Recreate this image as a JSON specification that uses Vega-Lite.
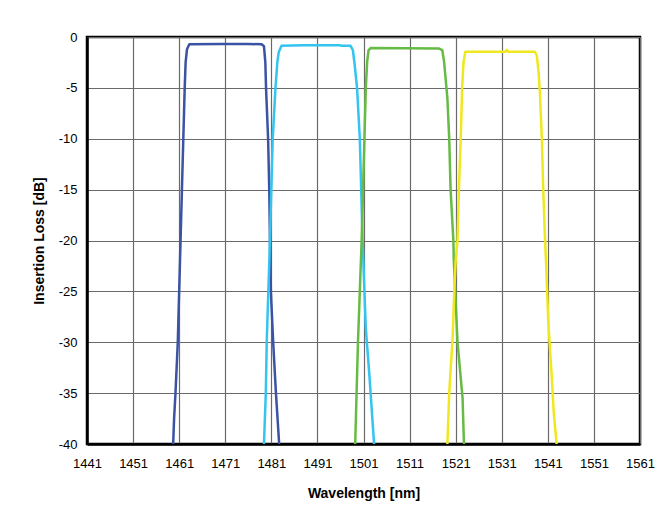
{
  "$schema": "https://vega.github.io/schema/vega-lite/v6.json",
  "width": 553,
  "height": 407,
  "autosize": {"type": "none"},
  "padding": {"left": 87, "top": 37, "right": 15, "bottom": 68},
  "background": "white",
  "config": {
    "font": "Liberation Sans",
    "view": {"stroke": "black", "strokeWidth": 2.5},
    "axis": {
      "labelFont": "Liberation Sans",
      "labelFontSize": 13,
      "labelColor": "black",
      "titleFont": "Liberation Sans",
      "titleFontSize": 14,
      "titleFontWeight": "bold",
      "titleColor": "black",
      "domainColor": "black",
      "domainWidth": 2.5,
      "gridColor": "#6a6a6a",
      "gridWidth": 1.2,
      "gridOpacity": 1,
      "ticks": false
    }
  },
  "data": {
    "values": [
      {"s": "A", "wl": 1459.7, "il": -40}, {"s": "A", "wl": 1459.9, "il": -37.5}, {"s": "A", "wl": 1460.2, "il": -35},
      {"s": "A", "wl": 1460.7, "il": -30}, {"s": "A", "wl": 1461.0, "il": -25}, {"s": "A", "wl": 1461.3, "il": -20},
      {"s": "A", "wl": 1461.6, "il": -15}, {"s": "A", "wl": 1461.9, "il": -10}, {"s": "A", "wl": 1462.2, "il": -5},
      {"s": "A", "wl": 1462.4, "il": -2.5}, {"s": "A", "wl": 1462.7, "il": -1.2}, {"s": "A", "wl": 1463.2, "il": -0.72},
      {"s": "A", "wl": 1470.0, "il": -0.7}, {"s": "A", "wl": 1476.0, "il": -0.68}, {"s": "A", "wl": 1478.9, "il": -0.72},
      {"s": "A", "wl": 1479.4, "il": -0.9}, {"s": "A", "wl": 1479.7, "il": -2.5}, {"s": "A", "wl": 1479.85, "il": -5},
      {"s": "A", "wl": 1480.3, "il": -10}, {"s": "A", "wl": 1480.55, "il": -15}, {"s": "A", "wl": 1480.7, "il": -20},
      {"s": "A", "wl": 1480.9, "il": -25}, {"s": "A", "wl": 1481.2, "il": -28}, {"s": "A", "wl": 1481.4, "il": -30},
      {"s": "A", "wl": 1482.0, "il": -35}, {"s": "A", "wl": 1482.7, "il": -40},

      {"s": "B", "wl": 1479.4, "il": -40}, {"s": "B", "wl": 1479.8, "il": -35}, {"s": "B", "wl": 1480.0, "il": -30},
      {"s": "B", "wl": 1480.35, "il": -25}, {"s": "B", "wl": 1480.7, "il": -20}, {"s": "B", "wl": 1481.0, "il": -15},
      {"s": "B", "wl": 1481.3, "il": -10}, {"s": "B", "wl": 1481.9, "il": -5}, {"s": "B", "wl": 1482.3, "il": -2.5},
      {"s": "B", "wl": 1482.6, "il": -1.5}, {"s": "B", "wl": 1483.2, "il": -0.85}, {"s": "B", "wl": 1488.0, "il": -0.8},
      {"s": "B", "wl": 1495.8, "il": -0.8}, {"s": "B", "wl": 1496.2, "il": -0.86}, {"s": "B", "wl": 1498.2, "il": -0.87},
      {"s": "B", "wl": 1498.7, "il": -1.3}, {"s": "B", "wl": 1499.1, "il": -2.8}, {"s": "B", "wl": 1499.6, "il": -5},
      {"s": "B", "wl": 1500.2, "il": -10}, {"s": "B", "wl": 1500.5, "il": -15}, {"s": "B", "wl": 1500.8, "il": -20},
      {"s": "B", "wl": 1500.97, "il": -22}, {"s": "B", "wl": 1501.2, "il": -25}, {"s": "B", "wl": 1501.5, "il": -28.6},
      {"s": "B", "wl": 1501.9, "il": -31}, {"s": "B", "wl": 1502.3, "il": -33.4}, {"s": "B", "wl": 1503.3, "il": -40},

      {"s": "C", "wl": 1499.2, "il": -40}, {"s": "C", "wl": 1499.5, "il": -35}, {"s": "C", "wl": 1499.8, "il": -30},
      {"s": "C", "wl": 1500.2, "il": -25}, {"s": "C", "wl": 1500.6, "il": -20}, {"s": "C", "wl": 1500.9, "il": -15},
      {"s": "C", "wl": 1501.2, "il": -10}, {"s": "C", "wl": 1501.5, "il": -5}, {"s": "C", "wl": 1501.8, "il": -2.4},
      {"s": "C", "wl": 1502.1, "il": -1.3}, {"s": "C", "wl": 1502.6, "il": -1.08}, {"s": "C", "wl": 1510.0, "il": -1.1},
      {"s": "C", "wl": 1517.3, "il": -1.12}, {"s": "C", "wl": 1518.1, "il": -1.3}, {"s": "C", "wl": 1518.5, "il": -2.5},
      {"s": "C", "wl": 1518.8, "il": -4}, {"s": "C", "wl": 1519.2, "il": -6}, {"s": "C", "wl": 1519.6, "il": -10},
      {"s": "C", "wl": 1519.9, "il": -15}, {"s": "C", "wl": 1520.5, "il": -20}, {"s": "C", "wl": 1520.6, "il": -22},
      {"s": "C", "wl": 1521.0, "il": -26}, {"s": "C", "wl": 1521.4, "il": -30}, {"s": "C", "wl": 1522.0, "il": -33},
      {"s": "C", "wl": 1522.5, "il": -35.5}, {"s": "C", "wl": 1522.8, "il": -40},

      {"s": "D", "wl": 1519.2, "il": -40}, {"s": "D", "wl": 1519.6, "il": -35}, {"s": "D", "wl": 1520.0, "il": -32},
      {"s": "D", "wl": 1520.3, "il": -30}, {"s": "D", "wl": 1520.7, "il": -25}, {"s": "D", "wl": 1521.0, "il": -22},
      {"s": "D", "wl": 1521.4, "il": -20}, {"s": "D", "wl": 1521.7, "il": -15}, {"s": "D", "wl": 1522.1, "il": -10},
      {"s": "D", "wl": 1522.4, "il": -5}, {"s": "D", "wl": 1522.7, "il": -2.5}, {"s": "D", "wl": 1523.1, "il": -1.45},
      {"s": "D", "wl": 1528.0, "il": -1.45}, {"s": "D", "wl": 1531.8, "il": -1.45}, {"s": "D", "wl": 1532.1, "il": -1.25},
      {"s": "D", "wl": 1532.4, "il": -1.45}, {"s": "D", "wl": 1538.2, "il": -1.45}, {"s": "D", "wl": 1538.6, "il": -1.8},
      {"s": "D", "wl": 1539.0, "il": -3.5}, {"s": "D", "wl": 1539.3, "il": -5.7}, {"s": "D", "wl": 1539.7, "il": -10},
      {"s": "D", "wl": 1540.0, "il": -15}, {"s": "D", "wl": 1540.4, "il": -20}, {"s": "D", "wl": 1540.6, "il": -22},
      {"s": "D", "wl": 1541.1, "il": -28}, {"s": "D", "wl": 1541.8, "il": -33}, {"s": "D", "wl": 1542.3, "il": -37},
      {"s": "D", "wl": 1542.9, "il": -40}
    ]
  },
  "mark": {"type": "line", "strokeWidth": 2.5, "strokeJoin": "round", "clip": true},
  "encoding": {
    "x": {
      "field": "wl",
      "type": "quantitative",
      "title": "Wavelength [nm]",
      "scale": {"domain": [1441, 1561], "nice": false, "zero": false},
      "axis": {
        "values": [1441, 1451, 1461, 1471, 1481, 1491, 1501, 1511, 1521, 1531, 1541, 1551, 1561],
        "labelExpr": "'' + datum.value",
        "labelPadding": 13,
        "titlePadding": 16,
        "labelFlush": false
      }
    },
    "y": {
      "field": "il",
      "type": "quantitative",
      "title": "Insertion Loss [dB]",
      "scale": {"domain": [-40, 0], "nice": false},
      "axis": {
        "values": [0, -5, -10, -15, -20, -25, -30, -35, -40],
        "labelExpr": "'' + datum.value",
        "labelPadding": 10,
        "titlePadding": 12,
        "labelFlush": false
      }
    },
    "color": {
      "field": "s",
      "type": "nominal",
      "legend": null,
      "scale": {"domain": ["A", "B", "C", "D"], "range": ["#3A53A4", "#33C4F0", "#66BB44", "#F0E81E"]}
    }
  }
}
